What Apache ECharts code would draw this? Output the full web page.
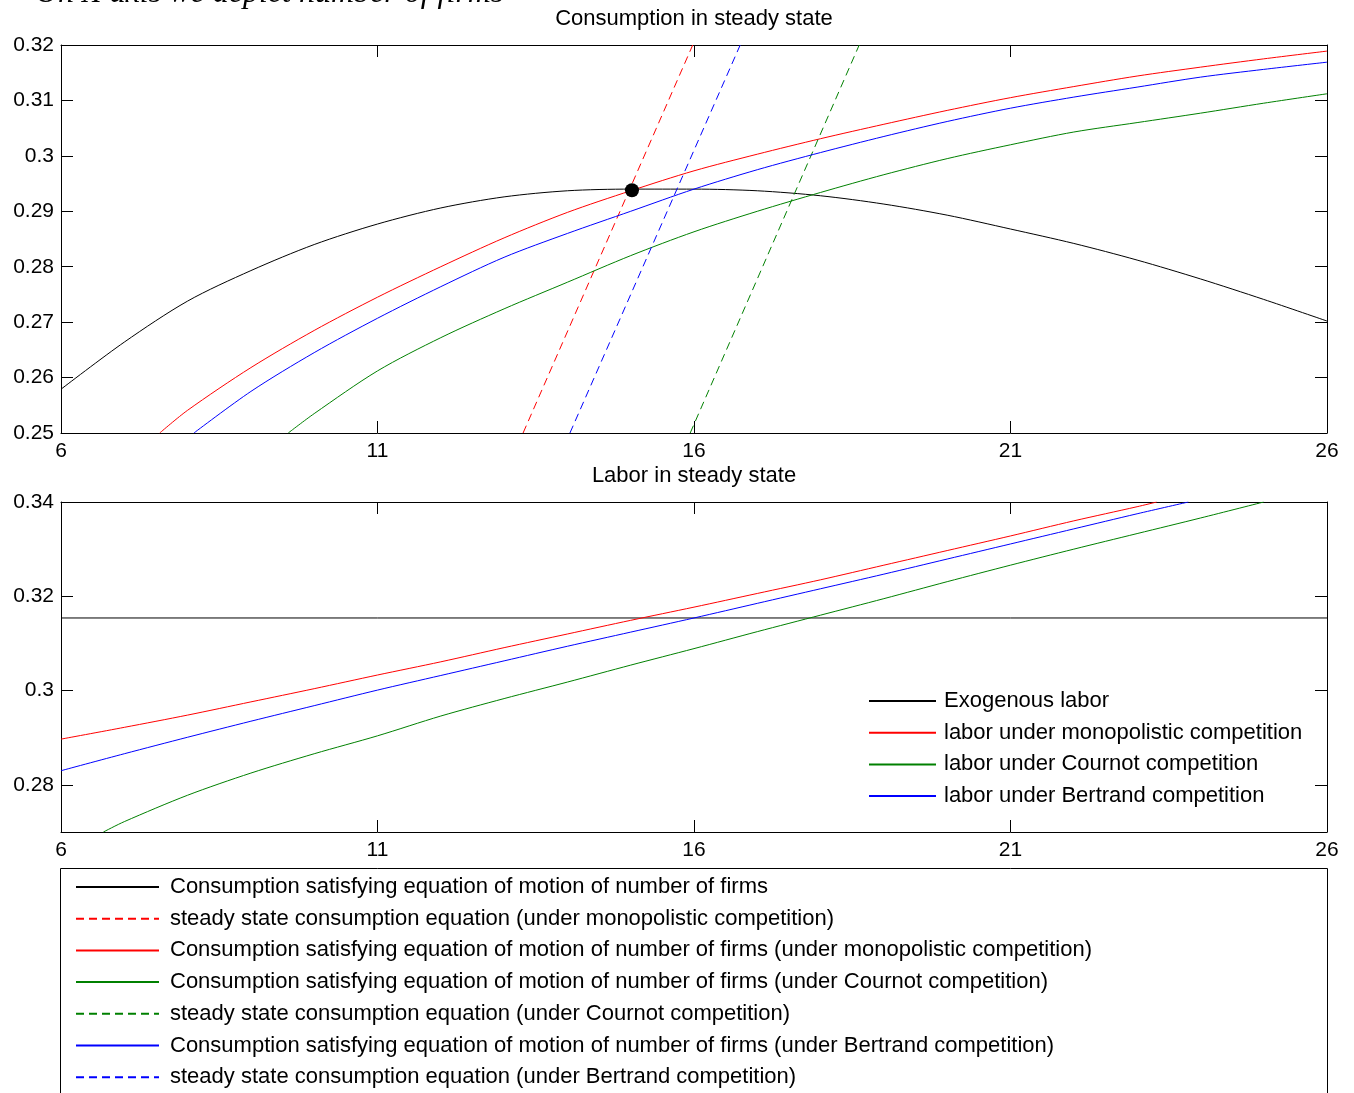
<!DOCTYPE html>
<html>
<head>
<meta charset="utf-8">
<script src="https://cdn.jsdelivr.net/npm/echarts@6/dist/echarts.min.js"></script>
<style>
html,body{margin:0;padding:0;background:#fff;}
#chart{width:1354px;height:1093px;}
</style>
</head>
<body>
<div id="chart"></div>
<script>
// ---------- Data ----------
const xTicks = [6, 11, 16, 21, 26];
const yTicksTop = [0.25, 0.26, 0.27, 0.28, 0.29, 0.30, 0.31, 0.32];
const yTicksBottom = [0.28, 0.30, 0.32, 0.34];

// Top panel: consumption
const xMotion = [6,7,8,9,10,11,12,13,14,15,16,17,18,19,20,21,22,23,24,25,26];
const cMotion = [0.2579,0.2664,0.2738,0.2793,0.2840,0.2877,0.2906,0.2926,0.2937,0.2940,0.2940,0.2937,0.2928,0.2913,0.2893,0.2868,0.2842,0.2812,0.2778,0.2741,0.2702];

const xMonoC = [7.56,8,9,10,11,12,13,14,15,16,17,18,19,20,21,22,23,24,25,26];
const cMono = [0.2500,0.2541,0.2618,0.2685,0.2745,0.2800,0.2852,0.2898,0.2937,0.2973,0.3003,0.3031,0.3057,0.3082,0.3105,0.3125,0.3144,0.3160,0.3175,0.3189];

const xBertC = [8.10,9,10,11,12,13,14,15,16,17,18,19,20,21,22,23,24,25,26];
const cBert = [0.2500,0.2575,0.2645,0.2707,0.2764,0.2817,0.2860,0.2900,0.2940,0.2975,0.3006,0.3035,0.3062,0.3086,0.3106,0.3124,0.3142,0.3156,0.3169];

const xCourC = [9.59,10,11,12,13,14,15,16,17,18,19,20,21,22,23,24,25,26];
const cCour = [0.2500,0.2535,0.2612,0.2672,0.2724,0.2772,0.2820,0.2863,0.2900,0.2934,0.2966,0.2995,0.3020,0.3043,0.3060,0.3077,0.3095,0.3112];

// steady state consumption equations (x at bottom / top of panel)
const ssMonoX = [13.30, 15.98];
const ssBertX = [14.04, 16.73];
const ssCourX = [15.94, 18.61];
const ssY = [0.25, 0.32];

const steadyPoint = [15.02, 0.2938];

// Bottom panel: labor
const exoLaborX = [6, 26];
const exoLabor = [0.3154, 0.3154];

const xMonoL = [6,7,8,9,10,11,12,13,14,15,16,17,18,19,20,21,22,23,23.31];
const lMono = [0.2897,0.2922,0.2948,0.2976,0.3004,0.3033,0.3061,0.3091,0.3120,0.3149,0.3177,0.3206,0.3235,0.3266,0.3297,0.3328,0.3360,0.3390,0.3400];

const xBertL = [6,7,8,9,10,11,12,13,14,15,16,17,18,19,20,21,22,23,23.81];
const lBert = [0.2830,0.2866,0.2901,0.2935,0.2968,0.3001,0.3032,0.3063,0.3094,0.3124,0.3154,0.3185,0.3216,0.3247,0.3279,0.3311,0.3343,0.3375,0.3400];

const xCourL = [6.67,7,8,9,10,11,12,13,14,15,16,17,18,19,20,21,22,23,24,25];
const lCour = [0.2700,0.2722,0.2778,0.2825,0.2866,0.2904,0.2946,0.2983,0.3018,0.3054,0.3089,0.3125,0.3160,0.3195,0.3231,0.3266,0.3300,0.3333,0.3366,0.3400];

const topNames = [
  'Consumption satisfying equation of motion of number of firms',
  'steady state consumption equation (under monopolistic competition)',
  'Consumption satisfying equation of motion of number of firms (under monopolistic competition)',
  'Consumption satisfying equation of motion of number of firms (under Cournot competition)',
  'steady state consumption equation (under Cournot competition)',
  'Consumption satisfying equation of motion of number of firms (under Bertrand competition)',
  'steady state consumption equation (under Bertrand competition)'
];
const bottomNames = [
  'Exogenous labor',
  'labor under monopolistic competition',
  'labor under Cournot competition',
  'labor under Bertrand competition'
];

// ---------- Build ----------
const FONT = '"Liberation Sans", Arial, Helvetica, sans-serif';
const zip = (xs, ys) => xs.map((x, i) => [x, ys[i]]);

function xAx(grid, pos, labels) {
  return {
    type: 'value', gridIndex: grid, position: pos, min: 6, max: 26,
    axisLine: {show: true, onZero: false, lineStyle: {color: '#000', width: 1}},
    axisTick: {show: true, inside: true, length: 12, customValues: xTicks, lineStyle: {color: '#000'}},
    axisLabel: {show: labels, customValues: xTicks, fontSize: 21, fontFamily: FONT, color: '#000', margin: 8},
    splitLine: {show: false}
  };
}
function yAx(grid, pos, labels, mn, mx, ticks) {
  return {
    type: 'value', gridIndex: grid, position: pos, min: mn, max: mx,
    axisLine: {show: true, onZero: false, lineStyle: {color: '#000', width: 1}},
    axisTick: {show: true, inside: true, length: 12, customValues: ticks, lineStyle: {color: '#000'}},
    axisLabel: {show: labels, customValues: ticks, fontSize: 21, fontFamily: FONT, color: '#000', margin: 7,
      formatter: v => String(+v.toFixed(4))},
    splitLine: {show: false}
  };
}
function line(name, data, color, dashed, xi, yi, smooth) {
  return {
    type: 'line', name: name, data: data, xAxisIndex: xi, yAxisIndex: yi,
    symbol: 'none', showSymbol: false, clip: true, silent: true,
    smooth: smooth ? 0.3 : false,
    lineStyle: {color: color, width: 1, type: dashed ? [8, 5] : 'solid'},
    itemStyle: {color: color}
  };
}

const legendCommon = {
  orient: 'vertical', itemHeight: 14, itemGap: 9.7, selectedMode: false, padding: 0,
  itemStyle: {opacity: 0, borderWidth: 0}
};

const chart = echarts.init(document.getElementById('chart'), null, {renderer: 'canvas'});
chart.setOption({
  animation: false,
  backgroundColor: '#fff',
  title: [
    {text: 'Consumption in steady state', left: 694, top: 8, textAlign: 'center', padding: 0,
     textStyle: {fontSize: 22, fontWeight: 'normal', fontFamily: FONT, color: '#000'}},
    {text: 'Labor in steady state', left: 694, top: 465, textAlign: 'center', padding: 0,
     textStyle: {fontSize: 22, fontWeight: 'normal', fontFamily: FONT, color: '#000'}}
  ],
  grid: [
    {left: 61, top: 45, width: 1266, height: 388},
    {left: 61, top: 502, width: 1266, height: 330}
  ],
  xAxis: [xAx(0, 'bottom', true), xAx(0, 'top', false), xAx(1, 'bottom', true), xAx(1, 'top', false)],
  yAxis: [
    yAx(0, 'left', true, 0.25, 0.32, yTicksTop), yAx(0, 'right', false, 0.25, 0.32, yTicksTop),
    yAx(1, 'left', true, 0.27, 0.34, yTicksBottom), yAx(1, 'right', false, 0.27, 0.34, yTicksBottom)
  ],
  legend: [
    Object.assign({}, legendCommon, {data: topNames, left: 75, top: 876, itemWidth: 83,
     textStyle: {fontSize: 22, lineHeight: 22, fontFamily: FONT, color: '#000', padding: [0, 0, 0, 6]}}),
    Object.assign({}, legendCommon, {data: bottomNames, left: 868, top: 690, itemWidth: 67,
     textStyle: {fontSize: 22, lineHeight: 22, fontFamily: FONT, color: '#000', padding: [0, 0, 0, 3]}})
  ],
  graphic: [
    {type: 'text', left: 35, top: -22, silent: true,
     style: {text: 'On X axis we depict number of firms', font: 'italic 32px "Liberation Serif", "Times New Roman", serif', fill: '#000'}},
    {type: 'rect', silent: true, shape: {x: 60.5, y: 868.5, width: 1267, height: 240},
     style: {fill: 'none', stroke: '#000', lineWidth: 1}}
  ],
  series: [
    line(topNames[0], zip(xMotion, cMotion), '#000000', false, 0, 0, true),
    line(topNames[1], zip(ssMonoX, ssY), '#ff0000', true, 0, 0),
    line(topNames[2], zip(xMonoC, cMono), '#ff0000', false, 0, 0, true),
    line(topNames[3], zip(xCourC, cCour), '#008000', false, 0, 0, true),
    line(topNames[4], zip(ssCourX, ssY), '#008000', true, 0, 0),
    line(topNames[5], zip(xBertC, cBert), '#0000ff', false, 0, 0, true),
    line(topNames[6], zip(ssBertX, ssY), '#0000ff', true, 0, 0),
    {type: 'scatter', name: 'steady state', xAxisIndex: 0, yAxisIndex: 0, silent: true, z: 5,
     data: [steadyPoint], symbol: 'circle', symbolSize: 14, itemStyle: {color: '#000', opacity: 1}},
    line(bottomNames[0], zip(exoLaborX, exoLabor), '#000000', false, 2, 2),
    line(bottomNames[1], zip(xMonoL, lMono), '#ff0000', false, 2, 2, true),
    line(bottomNames[2], zip(xCourL, lCour), '#008000', false, 2, 2, true),
    line(bottomNames[3], zip(xBertL, lBert), '#0000ff', false, 2, 2, true)
  ]
});
</script>
</body>
</html>
